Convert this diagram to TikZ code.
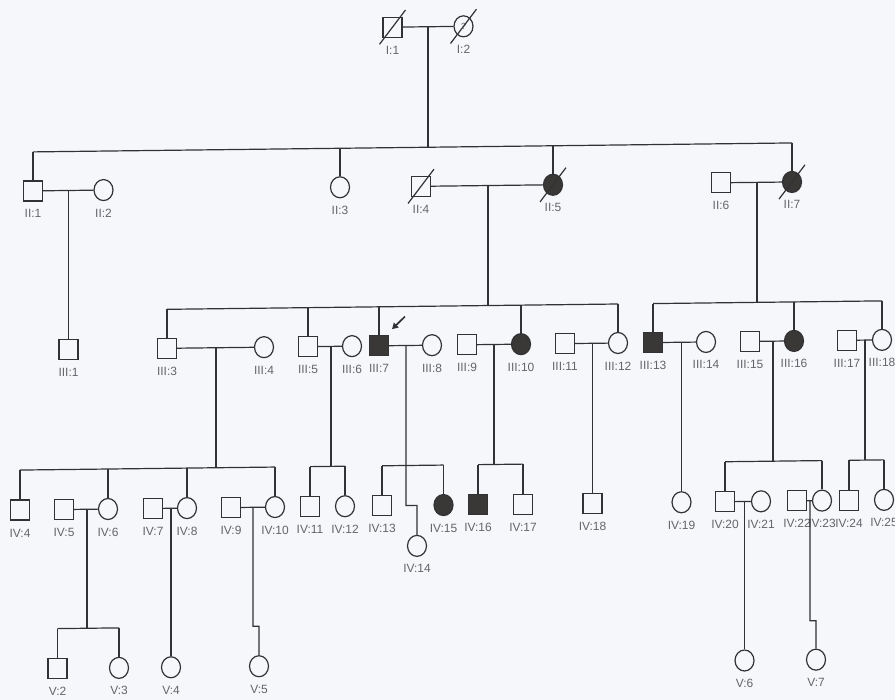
\documentclass[tikz,border=0pt]{standalone}
\usepackage{fontspec}
\setmainfont{Liberation Sans}
\usetikzlibrary{shapes.geometric,arrows.meta}
\definecolor{bg}{RGB}{246,247,250}
\definecolor{ink}{RGB}{50,50,52}
\definecolor{lab}{RGB}{100,100,106}
\definecolor{fillc}{RGB}{58,56,54}
\newcommand\pers[5]{\node[#4] (#1) at (#2,#3) {}; \node[lbl] (#1t) at ([yshift=-27bp]#1.center) {#5};}
\newcommand\dead[1]{\draw[ln] ([shift={(-13,17)}]#1.center) -- ([shift={(13,-17)}]#1.center);}
\begin{document}
\begin{tikzpicture}[x=1bp,y=-1bp,
  ln/.style={draw=ink,line width=1.2bp},
  male/.style={rectangle,draw=ink,line width=1.2bp,minimum width=19bp,minimum height=20bp,inner sep=0pt},
  female/.style={ellipse,draw=ink,line width=1.2bp,minimum width=19bp,minimum height=21bp,inner sep=0pt},
  aff/.style={fill=fillc},
  lbl/.style={font=\fontsize{12}{12}\selectfont,text=lab,anchor=base,inner sep=0pt},
]
\fill[bg] (0,0) rectangle (895,700);
\useasboundingbox (0,0) rectangle (895,700);
\def\GI{26.5}\def\SII{147}\def\GII{186}\def\SIII{306}\def\GIII{345}
\def\SIV{465}\def\GIV{505}\def\SV{624}\def\GV{664}
\begin{scope}[yshift=-5.29bp,yslant=0.0118]
% generation I
\pers{I1}{392.5}{\GI}{male}{I:1}
\node[female] (I2) at (463.5,\GI) {\fontsize{9}{9}\selectfont\color{lab}?};
\node[lbl] (I2t) at ([yshift=-27bp]I2.center) {I:2};
\dead{I1}\dead{I2}
% generation II
\pers{II1}{33}{\GII}{male}{II:1}
\pers{II2}{103.5}{\GII}{female}{II:2}
\pers{II3}{340}{\GII}{female}{II:3}
\pers{II4}{421}{\GII}{male}{II:4}
\pers{II5}{553}{\GII}{female,aff}{II:5}
\pers{II6}{721}{\GII}{male}{II:6}
\pers{II7}{792}{\GII}{female,aff}{II:7}
\dead{II4}\dead{II5}\dead{II7}
% generation III
\pers{III1}{68.5}{\GIII}{male}{III:1}
\pers{III3}{167}{\GIII}{male}{III:3}
\pers{III4}{264}{\GIII}{female}{III:4}
\pers{III5}{308}{\GIII}{male}{III:5}
\pers{III6}{352}{\GIII}{female}{III:6}
\pers{III7}{379}{\GIII}{male,aff}{III:7}
\pers{III8}{432}{\GIII}{female}{III:8}
\pers{III9}{467}{\GIII}{male}{III:9}
\pers{III10}{521}{\GIII}{female,aff}{III:10}
\pers{III11}{565}{\GIII}{male}{III:11}
\pers{III12}{618}{\GIII}{female}{III:12}
\pers{III13}{653}{\GIII}{male,aff}{III:13}
\pers{III14}{706}{\GIII}{female}{III:14}
\pers{III15}{750}{\GIII}{male}{III:15}
\pers{III16}{794}{\GIII}{female,aff}{III:16}
\pers{III17}{847}{\GIII}{male}{III:17}
\pers{III18}{882}{\GIII}{female}{III:18}
% generation IV
\pers{IV4}{20}{\GIV}{male}{IV:4}
\pers{IV5}{64}{\GIV}{male}{IV:5}
\pers{IV6}{108}{\GIV}{female}{IV:6}
\pers{IV7}{153}{\GIV}{male}{IV:7}
\pers{IV8}{187}{\GIV}{female}{IV:8}
\pers{IV9}{231}{\GIV}{male}{IV:9}
\pers{IV10}{275}{\GIV}{female}{IV:10}
\pers{IV11}{310}{\GIV}{male}{IV:11}
\pers{IV12}{345}{\GIV}{female}{IV:12}
\pers{IV13}{382}{\GIV}{male}{IV:13}
\pers{IV14}{417}{545.5}{female}{IV:14}
\pers{IV15}{443.5}{\GIV}{female,aff}{IV:15}
\pers{IV16}{478}{\GIV}{male,aff}{IV:16}
\pers{IV17}{523}{\GIV}{male}{IV:17}
\pers{IV18}{592.5}{\GIV}{male}{IV:18}
\pers{IV19}{681.5}{\GIV}{female}{IV:19}
\pers{IV20}{725}{\GIV}{male}{IV:20}
\pers{IV21}{761}{\GIV}{female}{IV:21}
\pers{IV22}{797}{\GIV}{male}{IV:22}
\pers{IV23}{822}{\GIV}{female}{IV:23}
\pers{IV24}{849}{\GIV}{male}{IV:24}
\pers{IV25}{884}{\GIV}{female}{IV:25}
% generation V
\pers{V2}{57.5}{\GV}{male}{V:2}
\pers{V3}{119}{\GV}{female}{V:3}
\pers{V4}{171}{\GV}{female}{V:4}
\pers{V5}{259}{\GV}{female}{V:5}
\pers{V6}{744.5}{\GV}{female}{V:6}
\pers{V7}{816}{\GV}{female}{V:7}
% marriage lines
\foreach \a/\b in {I1/I2,II1/II2,II4/II5,II6/II7,III3/III4,III5/III6,III7/III8,
  III9/III10,III11/III12,III13/III14,III15/III16,III17/III18,IV5/IV6,IV7/IV8,
  IV9/IV10,IV20/IV21,IV22/IV23}
  \draw[ln] (\a) -- (\b);
% descent from I
\coordinate (mI) at (428,\GI);
\coordinate (sIIm) at (428,\SII);
\draw[ln] (mI) -- (sIIm);
\coordinate (sII1) at (33,\SII);
\coordinate (sII3) at (340,\SII);
\coordinate (sII5) at (553,\SII);
\coordinate (sII7) at (792,\SII);
\draw[ln] (sII1) -- (sII7);
\foreach \c/\n in {sII1/II1,sII3/II3,sII5/II5,sII7/II7} \draw[ln] (\c) -- (\n);
% II:1 x II:2
\coordinate (mII12) at (68.5,\GII);
\draw[ln] (mII12) -- (III1);
% II:4 x II:5
\coordinate (mII45) at (488,\GII);
\coordinate (sIIIa) at (488,\SIII);
\draw[ln] (mII45) -- (sIIIa);
\coordinate (sIII3) at (167,\SIII);
\coordinate (sIII5) at (308,\SIII);
\coordinate (sIII7) at (379,\SIII);
\coordinate (sIII10) at (521,\SIII);
\coordinate (sIII12) at (618,\SIII);
\draw[ln] (sIII3) -- (sIII12);
\foreach \c/\n in {sIII3/III3,sIII5/III5,sIII7/III7,sIII10/III10,sIII12/III12} \draw[ln] (\c) -- (\n);
% II:6 x II:7
\coordinate (mII67) at (757,\GII);
\coordinate (sIIIb) at (757,\SIII);
\draw[ln] (mII67) -- (sIIIb);
\coordinate (sIII13) at (653,\SIII);
\coordinate (sIII16) at (794,\SIII);
\coordinate (sIII18) at (882,\SIII);
\draw[ln] (sIII13) -- (sIII18);
\foreach \c/\n in {sIII13/III13,sIII16/III16,sIII18/III18} \draw[ln] (\c) -- (\n);
% III:3 x III:4
\coordinate (mIII34) at (216,\GIII);
\coordinate (sIVa) at (216,\SIV);
\draw[ln] (mIII34) -- (sIVa);
\coordinate (sIV4) at (20,\SIV);
\coordinate (sIV6) at (108,\SIV);
\coordinate (sIV8) at (187,\SIV);
\coordinate (sIV10) at (275,\SIV);
\draw[ln] (sIV4) -- (sIV10);
\foreach \c/\n in {sIV4/IV4,sIV6/IV6,sIV8/IV8,sIV10/IV10} \draw[ln] (\c) -- (\n);
% III:5 x III:6
\coordinate (mIII56) at (331,\GIII);
\coordinate (sIVb) at (331,\SIV);
\draw[ln] (mIII56) -- (sIVb);
\coordinate (sIV11) at (310,\SIV);
\coordinate (sIV12) at (345,\SIV);
\draw[ln] (sIV11) -- (sIV12);
\foreach \c/\n in {sIV11/IV11,sIV12/IV12} \draw[ln] (\c) -- (\n);
% III:7 x III:8
\coordinate (mIII78) at (406,\GIII);
\coordinate (jIV14a) at (406,\GIV);
\coordinate (jIV14b) at (417,\GIV);
\draw[ln] (mIII78) -- (jIV14a) -- (jIV14b) -- (IV14);
\coordinate (sIV13) at (382,\SIV);
\coordinate (sIV15) at (443.5,\SIV);
\draw[ln] (sIV13) -- (sIV15);
\foreach \c/\n in {sIV13/IV13,sIV15/IV15} \draw[ln] (\c) -- (\n);
% III:9 x III:10
\coordinate (mIII910) at (494,\GIII);
\coordinate (sIVc) at (494,\SIV);
\draw[ln] (mIII910) -- (sIVc);
\coordinate (sIV16) at (478,\SIV);
\coordinate (sIV17) at (523,\SIV);
\draw[ln] (sIV16) -- (sIV17);
\foreach \c/\n in {sIV16/IV16,sIV17/IV17} \draw[ln] (\c) -- (\n);
% III:11 x III:12 and III:13 x III:14
\coordinate (mIII1112) at (592.5,\GIII);
\draw[ln] (mIII1112) -- (IV18);
\coordinate (mIII1314) at (681.5,\GIII);
\draw[ln] (mIII1314) -- (IV19);
% III:15 x III:16
\coordinate (mIII1516) at (773,\GIII);
\coordinate (sIVd) at (773,\SIV);
\draw[ln] (mIII1516) -- (sIVd);
\coordinate (sIV20) at (725,\SIV);
\coordinate (sIV23) at (822,\SIV);
\draw[ln] (sIV20) -- (sIV23);
\foreach \c/\n in {sIV20/IV20,sIV23/IV23} \draw[ln] (\c) -- (\n);
% III:17 x III:18
\coordinate (mIII1718) at (865,\GIII);
\coordinate (sIVe) at (865,\SIV);
\draw[ln] (mIII1718) -- (sIVe);
\coordinate (sIV24) at (849,\SIV);
\coordinate (sIV25) at (884,\SIV);
\draw[ln] (sIV24) -- (sIV25);
\foreach \c/\n in {sIV24/IV24,sIV25/IV25} \draw[ln] (\c) -- (\n);
% IV:5 x IV:6
\coordinate (mIV56) at (87,\GIV);
\coordinate (sVa) at (87,\SV);
\draw[ln] (mIV56) -- (sVa);
\coordinate (sV2) at (57.5,\SV);
\coordinate (sV3) at (119,\SV);
\draw[ln] (sV2) -- (sV3);
\foreach \c/\n in {sV2/V2,sV3/V3} \draw[ln] (\c) -- (\n);
% IV:7 x IV:8
\coordinate (mIV78) at (171,\GIV);
\draw[ln] (mIV78) -- (V4);
% IV:9 x IV:10
\coordinate (mIV910) at (253,\GIV);
\coordinate (jV5a) at (253,\SV);
\coordinate (jV5b) at (259,\SV);
\draw[ln] (mIV910) -- (jV5a) -- (jV5b) -- (V5);
% IV:20 x IV:21
\coordinate (mIV2021) at (744.5,\GIV);
\draw[ln] (mIV2021) -- (V6);
% IV:22 x IV:23
\coordinate (mIV2223) at (810,\GIV);
\coordinate (jV7a) at (810,625);
\coordinate (jV7b) at (816,625);
\draw[ln] (mIV2223) -- (jV7a) -- (jV7b) -- (V7);
% proband arrow
\coordinate (arT) at (405,316);
\coordinate (arH) at (392,328.5);
\draw[ln,line width=1.7bp,-{Triangle[length=6bp,width=6.5bp]}] (arT) -- (arH);
\end{scope}
\end{tikzpicture}
\end{document}
